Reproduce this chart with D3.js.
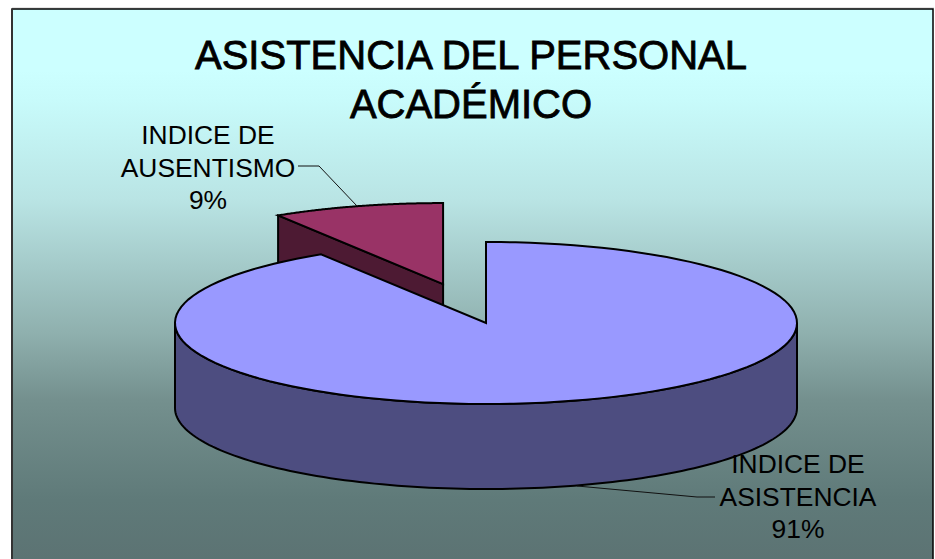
<!DOCTYPE html>
<html><head><meta charset="utf-8">
<style>html,body{margin:0;padding:0;background:#fff}svg{display:block}text{font-family:"Liberation Sans",Arial,sans-serif;fill:#000}</style>
<script src="https://cdn.jsdelivr.net/npm/d3@7/dist/d3.min.js"></script>
</head><body>
<script>
const categories = ["INDICE DE ASISTENCIA", "INDICE DE AUSENTISMO"];
const values = [91.1, 8.9];
const labelLines = [["INDICE DE", "ASISTENCIA", "91%"], ["INDICE DE", "AUSENTISMO", "9%"]];
const titleLines = ["ASISTENCIA DEL PERSONAL", "ACADÉMICO"];
const topColors = ["#9999ff", "#993366"];
const wallColors = ["#4d4d80", "#4d1a33"];
const bgStops = [[9, "#ccffff"], [70, "#ccffff"], [100, "#c8fbfb"], [200, "#b9e4e4"], [333, "#8fb0ae"], [400, "#74908e"], [500, "#5f7a79"], [559, "#5c7373"]];

const W = 935, H = 559;
const cx = 486, cy = 323, rx = 311, ry = 81, depth = 85, explode = 0.5;
const svg = d3.select("body").append("svg").attr("width", W).attr("height", H);

const grad = svg.append("defs").append("linearGradient").attr("id", "bg")
  .attr("gradientUnits", "userSpaceOnUse").attr("x1", 0).attr("y1", 9).attr("x2", 0).attr("y2", H);
bgStops.forEach(([y, c]) => grad.append("stop").attr("offset", (y - 9) / (H - 9)).attr("stop-color", c));

svg.append("line").attr("x1", 12).attr("x2", 934).attr("y1", 8).attr("y2", 8).attr("stroke", "#ccc").attr("stroke-width", 1);
svg.append("rect").attr("x", 12).attr("y", 9).attr("width", 921).attr("height", 560)
  .attr("fill", "url(#bg)").attr("stroke", "#000").attr("stroke-width", 1.5);
svg.append("line").attr("x1", 12).attr("x2", 12).attr("y1", 9).attr("y2", H).attr("stroke", "#333").attr("stroke-width", 2);

const arcs = d3.pie().sort(null).startAngle(0).endAngle(2 * Math.PI)(values);

const px = (a, ox) => cx + ox + rx * Math.sin(a);
const py = (a, oy) => cy + oy - ry * Math.cos(a);
const line = d3.line();
const samples = (a0, a1) => d3.range(0, 121).map(i => a0 + (a1 - a0) * i / 120);

function offset(d) {
  if (d.index === 0) return [0, 0];
  const mid = (d.startAngle + d.endAngle) / 2;
  return [rx * explode * Math.sin(mid), -ry * explode * Math.cos(mid)];
}

const stroke = { stroke: "#000", "stroke-width": 2, "stroke-linejoin": "miter" };
function draw(path, fill) {
  const p = svg.append("path").attr("d", path).attr("fill", fill);
  Object.entries(stroke).forEach(([k, v]) => p.attr(k, v));
}

// small slice: cut wall, then top
const small = arcs[1];
{
  const [ox, oy] = offset(small);
  const a = small.startAngle;
  const outer = [px(a, ox), py(a, oy)], apex = [cx + ox, cy + oy];
  const wall = [outer, apex, [apex[0], apex[1] + depth], [outer[0], outer[1] + depth]];
  draw(line(wall) + "Z", wallColors[1]);
  const top = samples(small.startAngle, small.endAngle).map(t => [px(t, ox), py(t, oy)]);
  draw(line([...top, apex]) + "Z", topColors[1]);
}

// big slice: visible rim (front half), then top
const big = arcs[0];
{
  const front = samples(Math.PI / 2, 3 * Math.PI / 2);
  const rimTop = front.map(t => [px(t, 0), py(t, 0)]);
  const rimBottom = front.slice().reverse().map(t => [px(t, 0), py(t, 0) + depth]);
  draw(line([...rimTop, ...rimBottom]) + "Z", wallColors[0]);
  const top = samples(big.startAngle, big.endAngle).map(t => [px(t, 0), py(t, 0)]);
  draw(line([...top, [cx, cy]]) + "Z", topColors[0]);
}

// leader lines
const leader = d3.line();
svg.append("path").attr("d", leader([[298, 166], [319, 166], [357, 206]])).attr("fill", "none").attr("stroke", "#111").attr("stroke-width", 1);
svg.append("path").attr("d", leader([[715, 497], [697, 497], [577, 486]])).attr("fill", "none").attr("stroke", "#111").attr("stroke-width", 1);

// title
titleLines.forEach((t, i) => {
  svg.append("text").attr("x", 471).attr("y", 68.5 + i * 49.5).attr("text-anchor", "middle")
    .attr("font-size", 40).attr("stroke", "#000").attr("stroke-width", 0.8).text(t);
});

// data labels
const labelPos = [{ x: 798, y: 473 }, { x: 208, y: 144 }];
labelLines.forEach((lines, k) => {
  lines.forEach((t, i) => {
    svg.append("text").attr("x", labelPos[k].x).attr("y", labelPos[k].y + i * 32.7)
      .attr("text-anchor", "middle").attr("font-size", 26.4).text(t);
  });
});
</script>
</body></html>
